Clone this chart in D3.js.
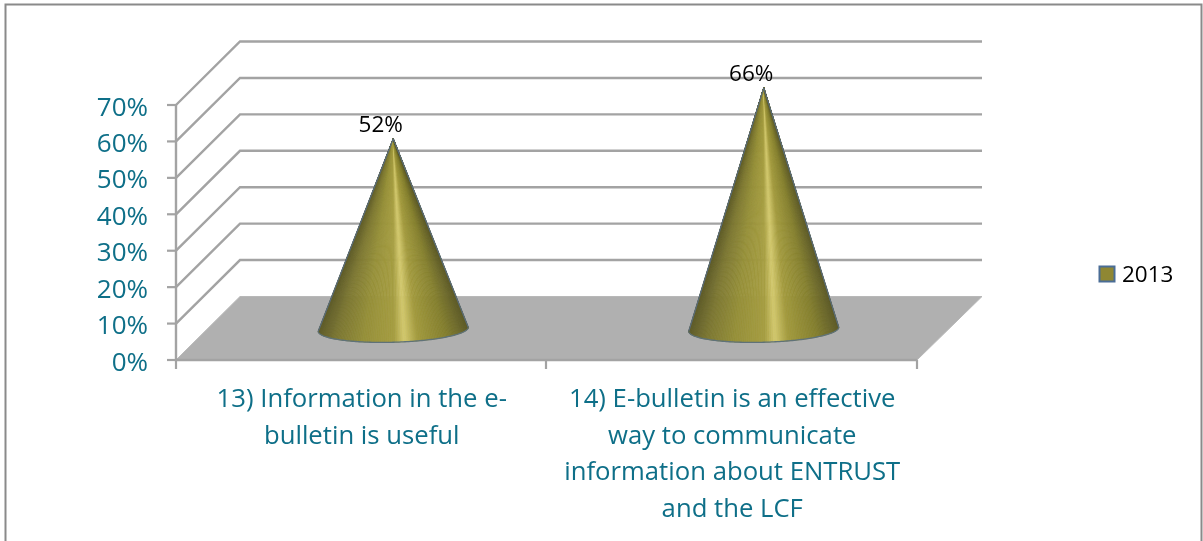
<!DOCTYPE html>
<html><head><meta charset="utf-8">
<script src="https://cdn.jsdelivr.net/npm/d3@7"></script>
<style>html,body{margin:0;background:#fff}svg{display:block;filter:blur(0.35px)}text{font-family:"Open Sans",Lato,sans-serif}</style>
</head><body><svg width="1203" height="541"></svg>
<script>
const categories = [["13) Information in the e-","bulletin is useful"],["14) E-bulletin is an effective","way to communicate","information about ENTRUST","and the LCF"]];
const values = [0.52,0.66];
const yTicks = [0,0.1,0.2,0.3,0.4,0.5,0.6,0.7];
const seriesName = "2013";
const svg = d3.select("svg");
const x = d3.scaleBand().domain([0,1]).range([176,917]);
const y = d3.scaleLinear().domain([0,0.7]).range([360,105]);
const dx=64, dy=63.5;
const teal="#0e6f88", grid="#a3a3a3";
// frame
svg.append("path").attr("d","M5.5,541V4.5H1201.5V541").attr("fill","none").attr("stroke","#8a8a8a").attr("stroke-width",2);
// floor
svg.append("path").attr("d",d3.line()([[x.range()[0],y(0)],[x.range()[0]+dx,y(0)-dy],[982,y(0)-dy],[x.range()[1],y(0)]])+"Z").attr("fill","#b0b0b0").attr("stroke","#b8b8b8");
// grid
svg.append("g").selectAll("path").data(yTicks.slice(1)).join("path")
 .attr("d",d=>d3.line()([[176,y(d)],[176+dx,y(d)-dy],[982,y(d)-dy]]))
 .attr("fill","none").attr("stroke",grid).attr("stroke-width",2.4);
// axes
svg.append("path").attr("d",`M176,${y(0.7)}V${y(0)}H917`).attr("fill","none").attr("stroke",grid).attr("stroke-width",2.4);
svg.append("g").selectAll("line").data(yTicks).join("line").attr("x1",167).attr("x2",176).attr("y1",d=>y(d)).attr("y2",d=>y(d)).attr("stroke",grid).attr("stroke-width",2.2);
svg.append("g").selectAll("line").data(x.range().concat([546])).join("line").attr("x1",d=>d).attr("x2",d=>d).attr("y1",360).attr("y2",369).attr("stroke",grid).attr("stroke-width",2.2);
svg.append("g").selectAll("text").data(yTicks).join("text").attr("x",148).attr("y",d=>y(d)+10.5).attr("text-anchor","end").attr("font-size",26).attr("fill",teal).text(d3.format(".0%"));
// cones
const shade=d3.scaleLinear().domain([0,0.12,0.3,0.5,0.57,0.66,0.85,1]).range(["#5f5c2a","#7d7833","#96903a","#a69e42","#d3c96e","#a39b3f","#85802f","#5f5c2a"]);
const rx=75, ry=13, tilt=-0.027;
values.forEach((v,i)=>{
  const cx=x(i)+x.bandwidth()/2+dx/2, cy=y(0)-dy/2+1, ax=cx, ay=y(v)-dy/2;
  const pt=t=>{const ex=rx*Math.cos(t),ey=ry*Math.sin(t);return [cx+ex, cy+ey+tilt*ex];};
  const ts=d3.range(0,121).map(k=>Math.PI*(1-k/120));
  const g=svg.append("g");
  g.selectAll("path.w").data(ts.slice(0,-1)).join("path").attr("class","w")
   .attr("d",(t,k)=>d3.line()([[ax,ay],pt(t),pt(ts[k+1])])+"Z")
   .attr("fill",(t)=>shade((pt(t)[0]-cx+rx)/(2*rx)))
   .attr("stroke",(t)=>shade((pt(t)[0]-cx+rx)/(2*rx))).attr("stroke-width",0.7);
  g.append("path").attr("d",d3.line()([pt(Math.PI),[ax,ay],pt(0)])).attr("fill","none").attr("stroke","#5a6c78").attr("stroke-width",1.3).attr("stroke-linejoin","round");
  g.append("path").attr("d",d3.line()(ts.map(pt))).attr("fill","none").attr("stroke","#5f7278").attr("stroke-width",1.3);
  svg.append("text").attr("x",cx-12.5).attr("y",ay-7).attr("text-anchor","middle").attr("font-size",22.5).attr("fill","#000").text(d3.format(".0%")(v));
  const t=svg.append("text").attr("text-anchor","middle").attr("font-size",25.7).attr("fill",teal);
  categories[i].forEach((l,j)=>t.append("tspan").attr("x",x(i)+x.bandwidth()/2+0.5).attr("y",407+j*36.5).text(l));
});
// legend
svg.append("rect").attr("x",1099.5).attr("y",266.5).attr("width",15).attr("height",15).attr("fill","#8f8733").attr("stroke","#4a6d96").attr("stroke-width",2);
svg.append("text").attr("x",1122).attr("y",282).attr("font-size",22.5).attr("fill","#000").text(seriesName);
</script></body></html>
